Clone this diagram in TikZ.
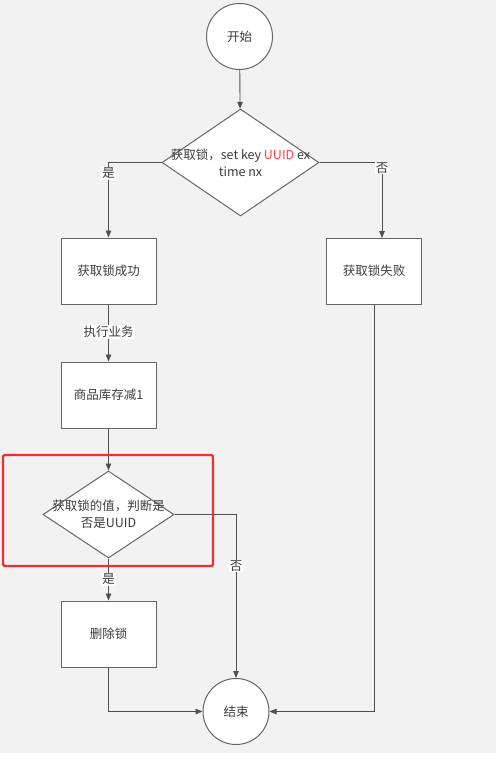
\documentclass[tikz,border=0pt]{standalone}
\usepackage{fontspec}
\setmainfont{Noto Sans CJK SC}
\usetikzlibrary{shapes.geometric,arrows.meta}
\definecolor{bg}{HTML}{F2F2F2}
\definecolor{ln}{HTML}{505050}
\definecolor{bd}{HTML}{666666}
\definecolor{tx}{HTML}{3C3C3C}
\definecolor{hlred}{HTML}{F03030}
\definecolor{uuid}{HTML}{FF4040}
\begin{document}
\begin{tikzpicture}[x=1pt,y=-1pt,
  every node/.style={font=\fontsize{12.5}{17}\selectfont, text=tx},
  proc/.style={draw=bd, fill=white, line width=1pt, minimum width=95pt, minimum height=66pt, inner sep=0pt},
  term/.style={circle, draw=bd, fill=white, line width=1pt, minimum size=66pt, inner sep=0pt},
  dec/.style={diamond, draw=bd, fill=white, line width=1pt, inner sep=0pt},
  conn/.style={draw=ln, line width=0.9pt, -{Triangle[length=7pt,width=5.5pt]}},
  lbl/.style={fill=white, inner sep=1pt},
  hlbox/.style={draw=hlred, line width=2.2pt, rounded corners=1.5pt, minimum width=210pt, minimum height=111pt, inner sep=0pt}]
\useasboundingbox (0,0) rectangle (500,760);
\fill[bg] (0,0) rectangle (496,753);

\node[term] (start) at (239.5,36.5) {开始};
\node[dec, minimum width=157pt, minimum height=107pt] (d1) at (240.5,162.5) {};
\node[align=center] (d1t) at (d1.center) {获取锁，set key \textcolor{uuid}{UUID} ex\\time nx};
\node[proc] (b1) at (108.5,271) {获取锁成功};
\node[proc] (b2) at (374,271) {获取锁失败};
\node[proc] (b3) at (108.5,395) {商品库存减1};
\node[dec, minimum width=131pt, minimum height=87pt] (d2) at (108.5,514.5) {};
\node[align=center] (d2t) at (d2.center) {获取锁的值，判断是\\否是UUID};
\node[proc] (b4) at (108.5,634) {删除锁};
\node[term] (end) at (236,711.5) {结束};
\coordinate (b2in) at (382,238);

\draw[conn] (start) -- (d1);
\draw[conn] (d1.west) -| (b1.north);
\draw[conn] (d1.east) -| (b2in);
\draw[conn] (b1) -- (b3);
\draw[conn] (b3) -- (d2);
\draw[conn] (d2) -- (b4);
\draw[conn] (d2.east) -| (end.north);
\draw[conn] (b4.south) |- (end.west);
\draw[conn] (b2.south) |- (end.east);

\node[lbl] (l1) at (108.5,173) {是};
\node[lbl] (l2) at (382,168) {否};
\node[lbl] (l3) at (108.5,332) {执行业务};
\node[lbl] (l4) at (108.5,579) {是};
\node[lbl] (l5) at (236,566) {否};

\node[hlbox] (hl) at (108,510.5) {};
\end{tikzpicture}
\end{document}
